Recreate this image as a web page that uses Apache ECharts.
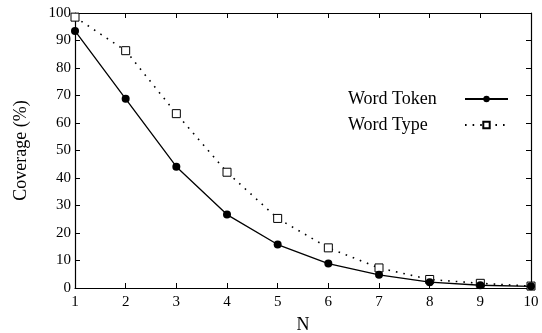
<!DOCTYPE html>
<html>
<head>
<meta charset="utf-8">
<script src="https://cdn.jsdelivr.net/npm/echarts@6/dist/echarts.min.js"></script>
<style>
  html, body { margin: 0; padding: 0; background: #fff; }
  #chart { width: 542px; height: 333px; }
</style>
</head>
<body>
<div id="chart"></div>
<script>
// values
const nValues = [1, 2, 3, 4, 5, 6, 7, 8, 9, 10]
const wordToken = [93.5, 68.8, 44.1, 26.7, 15.8, 8.9, 4.8, 2.1, 1.0, 0.6]
const wordType = [98.5, 86.3, 63.4, 42.1, 25.3, 14.6, 7.3, 3.1, 1.7, 0.7]

const font = 'Liberation Serif'

const chart = echarts.init(document.getElementById('chart'))

const tickStyle = { inside: true, length: 5, lineStyle: { color: '#000', width: 1 } }
const lineAxis = { show: true, onZero: false, lineStyle: { color: '#000', width: 1.2 } }

const option = {
  animation: false,
  backgroundColor: '#fff',
  grid: { left: 75, right: 11, top: 13, bottom: 45, outerBoundsMode: 'none', containLabel: false },
  legend: {
    orient: 'vertical',
    left: 343,
    top: 85,
    align: 'right',
    itemWidth: 43,
    itemHeight: 8,
    itemGap: 8,
    formatter: name => '{t|' + name + '}',
    textStyle: {
      fontFamily: font,
      fontSize: 18,
      color: '#000',
      rich: { t: { width: 112, align: 'left', fontFamily: font, fontSize: 18, color: '#000' } }
    },
    data: ['Word Token', 'Word Type']
  },
  xAxis: [{
    type: 'value',
    min: 1,
    max: 10,
    interval: 1,
    name: 'N',
    nameLocation: 'middle',
    nameGap: 28,
    nameTextStyle: { fontFamily: font, fontSize: 18, color: '#000' },
    axisLine: lineAxis,
    axisTick: tickStyle,
    splitLine: { show: false },
    axisLabel: { fontFamily: font, fontSize: 15, color: '#000', margin: 7 }
  }, {
    type: 'value',
    position: 'top',
    min: 1,
    max: 10,
    interval: 1,
    axisLine: lineAxis,
    axisTick: tickStyle,
    splitLine: { show: false },
    axisLabel: { show: false }
  }],
  yAxis: [{
    type: 'value',
    min: 0,
    max: 100,
    interval: 10,
    name: 'Coverage (%)',
    nameLocation: 'middle',
    nameGap: 45,
    nameTextStyle: { fontFamily: font, fontSize: 18, color: '#000' },
    axisLine: lineAxis,
    axisTick: tickStyle,
    splitLine: { show: false },
    axisLabel: { fontFamily: font, fontSize: 15, color: '#000', margin: 4 }
  }, {
    type: 'value',
    position: 'right',
    min: 0,
    max: 100,
    interval: 10,
    axisLine: lineAxis,
    axisTick: tickStyle,
    splitLine: { show: false },
    axisLabel: { show: false }
  }],
  series: [
    {
      name: 'Word Token',
      type: 'line',
      data: nValues.map((n, i) => [n, wordToken[i]]),
      symbol: 'circle',
      symbolSize: 8,
      itemStyle: { color: '#000' },
      lineStyle: { color: '#000', width: 1.3 },
      z: 3
    },
    {
      name: 'Word Type',
      type: 'line',
      data: nValues.map((n, i) => [n, wordType[i]]),
      symbol: 'rect',
      symbolSize: 8,
      itemStyle: { color: '#fff', borderColor: '#000', borderWidth: 1 },
      lineStyle: { color: '#000', width: 1.6, type: [1.6, 6] },
      z: 2
    }
  ]
}

chart.setOption(option)
</script>
</body>
</html>
